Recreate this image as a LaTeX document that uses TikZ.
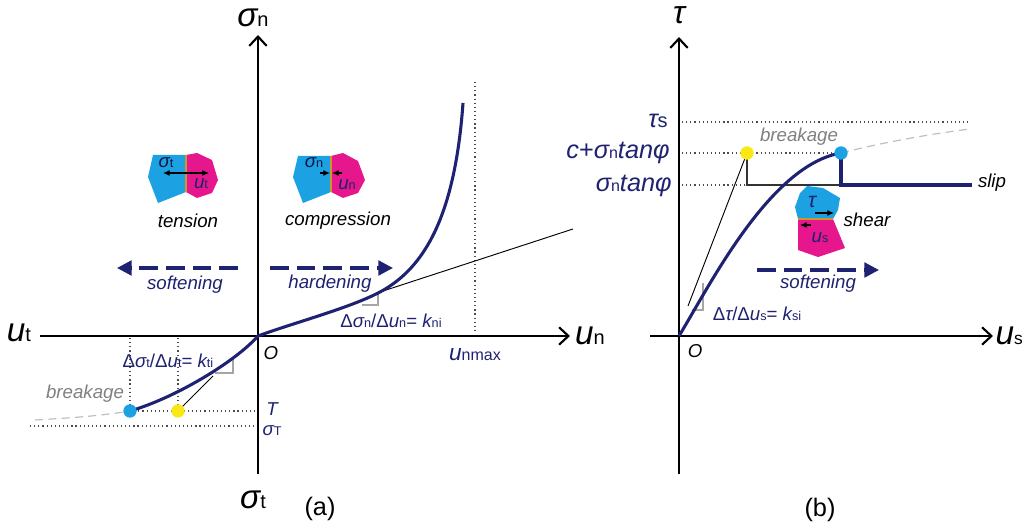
\documentclass[tikz,border=0pt]{standalone}
\usepackage{fontspec}
\setmainfont{Liberation Sans}
\usetikzlibrary{arrows.meta}
\definecolor{navy}{RGB}{30,34,112}
\definecolor{cyanb}{RGB}{28,162,226}
\definecolor{pinkb}{RGB}{230,22,140}
\definecolor{yel}{RGB}{250,232,20}
\definecolor{ifc}{RGB}{205,150,40}
\newcommand\sbs[1]{{\fontsize{9.5}{10}\selectfont #1}}
\newcommand\sbb[1]{{\fontsize{15}{16}\selectfont #1}}
\newcommand\sbm[1]{{\fontsize{12}{13}\selectfont #1}}
\tikzset{
  axisline/.style={line width=2.2pt,-{Straight Barb[length=7pt,width=13pt,line width=1.6pt]}},
  curveline/.style={draw=navy,line width=2.3pt},
  dotline/.style={draw=black!70,line width=0.9pt,dash pattern=on 0.9pt off 2.2pt},
  dasharrow/.style={draw=navy,line width=2.4pt,dash pattern=on 14pt off 6pt,-{Triangle[length=11pt,width=11pt]}},
  thinline/.style={draw=black,line width=0.7pt},
  marker/.style={draw=black!35,line width=0.8pt},
  greydash/.style={draw=black!25,line width=0.9pt,dash pattern=on 6pt off 4pt},
  lbl/.style={inner sep=0pt,font=\fontsize{14}{16}\selectfont},
  nlbl/.style={lbl,text=navy},
  axlbl/.style={inner sep=0pt,font=\fontsize{25}{26}\selectfont},
  biglbl/.style={inner sep=0pt,text=navy,font=\fontsize{19}{20}\selectfont},
  dotnode/.style={circle,inner sep=0pt,minimum size=10pt},
  tip/.style={line width=0.8pt,-{Latex[length=5pt,width=4.5pt]}},
  iface/.style={draw=ifc,line width=1.3pt}
}
\begin{document}
\begin{tikzpicture}[x=0.75pt,y=-0.75pt]
\useasboundingbox (0,0) rectangle (1024,530);
% ---------------- panel (a) ----------------
\coordinate (Oa) at (258,336);
\coordinate (axL) at (40,336);
\coordinate (axR) at (570,336);
\coordinate (axB) at (258,474);
\coordinate (axT) at (258,35);
% dotted guides
\coordinate (bA) at (130,411);
\coordinate (yA) at (178,411);
\draw[dotline] (bA) -- (256,411);
\draw[dotline] (30,426) -- (256,426);
\draw[dotline] (130,338) -- (bA);
\draw[dotline] (178,338) -- (yA);
\draw[dotline] (475,82) -- (475,334);
% axes
\draw[axisline] (axL) -- (axR);
\draw[axisline] (axB) -- (axT);
% grey continuation
\draw[greydash] (35,420) .. controls (70,418) and (100,416) .. (bA);
% markers
\draw[marker] (362,305) -- (378,305) -- (378,294);
\draw[marker] (215,373) -- (233,373) -- (233,359);
% tangents
\draw[thinline] (380,292) -- (573,229);
\draw[thinline] (yA) -- (213,376);
% curve
\draw[curveline] (bA) .. controls (175,398) and (235,362) .. (Oa)
  .. controls (293,323) and (350,308) .. (380,292)
  .. controls (425,268) and (455,215) .. (463,103);
\node[dotnode,fill=cyanb] (dotA1) at (bA) {};
\node[dotnode,fill=yel] (dotA2) at (yA) {};
% icons: tension
\fill[cyanb] (153,155) -- (186,155) -- (186,192) -- (158,203) -- (148,177) -- cycle;
\fill[pinkb] (186,155) -- (197,153) -- (212,160) -- (218,180) -- (212,193) -- (197,198) -- (186,192) -- cycle;
\draw[iface] (186,155) -- (186,192);
\draw[tip] (186,173) -- (163,173);
\draw[tip] (186,173) -- (209,173);
\node[lbl,text=navy!60!black] (sigt) at (166,163) {\itshape σ\upshape\sbs{t}};
\node[lbl,text=navy] (uti) at (201,184) {\itshape u\upshape\sbs{t}};
% icons: compression
\fill[cyanb] (298,156) -- (331,156) -- (331,192) -- (303,203) -- (293,177) -- cycle;
\fill[pinkb] (331,156) -- (343,153) -- (358,161) -- (365,180) -- (358,193) -- (343,198) -- (331,192) -- cycle;
\draw[iface] (331,156) -- (331,192);
\draw[tip] (320,173) -- (330,173);
\draw[tip] (342,173) -- (332,173);
\node[lbl,text=navy!60!black] (sign) at (314,163) {\itshape σ\upshape\sbs{n}};
\node[lbl,text=navy] (uni) at (347,185) {\itshape u\upshape\sbs{n}};
\node[lbl] (tens) at (188,221) {\itshape tension};
\node[lbl] (comp) at (338,221) {\itshape compression};
% dashed arrows
\coordinate (sA1) at (238,268); \coordinate (sA2) at (117,268);
\draw[dasharrow] (sA1) -- (sA2);
\coordinate (hA1) at (270,268); \coordinate (hA2) at (393,268);
\draw[dasharrow] (hA1) -- (hA2);
\node[nlbl] (softA) at (185,285) {\itshape softening};
\node[nlbl] (hardA) at (330,284) {\itshape hardening};
% labels
\node[axlbl] (lsn) at (253,18) {\itshape σ\upshape\sbb{n}};
\node[axlbl] (lut) at (19,333) {\itshape u\upshape\sbb{t}};
\node[axlbl] (lun) at (590,336) {\itshape u\upshape\sbb{n}};
\node[axlbl] (lst) at (253,500) {\itshape σ\upshape\sbb{t}};
\node[lbl,font=\fontsize{14}{16}\selectfont] (OA) at (271,353) {\itshape O};
\node[inner sep=0pt,font=\fontsize{19}{20}\selectfont] (capa) at (320,509) {(a)};
\node[nlbl] (TT) at (272,409) {\itshape T};
\node[nlbl] (sT) at (272,431) {\itshape σ\upshape\sbs{T}};
\node[lbl,text=black!50] (brA) at (85,394) {\itshape breakage};
\node[nlbl] (kti) at (168,361) {Δ\itshape σ\upshape\sbs{t}/Δ\itshape u\upshape\sbs{t}= \itshape k\upshape\sbs{ti}};
\node[nlbl] (kni) at (391,321) {Δ\itshape σ\upshape\sbs{n}/Δ\itshape u\upshape\sbs{n}= \itshape k\upshape\sbs{ni}};
\node[biglbl,font=\fontsize{17}{18}\selectfont] (unmax) at (475,355) {\itshape u\upshape\sbm{nmax}};
% ---------------- panel (b) ----------------
\coordinate (Ob) at (679,336);
\coordinate (bxL) at (650,336);
\coordinate (bxR) at (993,336);
\coordinate (byB) at (679,474);
\coordinate (byT) at (679,37);
\coordinate (yB) at (747,153);
\coordinate (bB) at (841,153);
\draw[dotline] (682,122) -- (970,122);
\draw[dotline] (682,153) -- (bB);
\draw[dotline] (682,185) -- (747,185);
\draw[axisline] (bxL) -- (bxR);
\draw[axisline] (byB) -- (byT);
\draw[greydash] (bB) .. controls (880,143) and (930,134) .. (970,129);
\draw[marker] (692,310) -- (703,310) -- (703,283);
\draw[thinline] (688,306) -- (yB);
\draw[draw=black!80,line width=0.9pt] (yB) -- (747,185) -- (841,185);
\draw[curveline] (Ob) .. controls (710,285) and (770,165) .. (bB);
\draw[curveline] (bB) -- (841,185) -- (972,185);
\node[dotnode,fill=yel] (dotB2) at (yB) {};
\node[dotnode,fill=cyanb] (dotB1) at (bB) {};
% shear icon
\fill[cyanb] (807,186) -- (823,188) -- (840,198) -- (838,210) -- (833,219) -- (798,219) -- (795,207) -- (800,193) -- cycle;
\fill[pinkb] (798,219) -- (833,219) -- (845,248) -- (818,257) -- (798,250) -- cycle;
\draw[iface] (798,219) -- (833,219);
\draw[tip] (815,213) -- (834,213);
\draw[tip] (811,225) -- (800,225);
\node[lbl,text=navy,font=\fontsize{16}{17}\selectfont] (tauI) at (812,202) {\itshape τ};
\node[lbl,text=navy] (usI) at (820,238) {\itshape u\upshape\sbs{s}};
\node[lbl] (shear) at (867,220) {\itshape shear};
\node[lbl] (slip) at (992,183) {\itshape slip};
\coordinate (sB1) at (757,270); \coordinate (sB2) at (879,270);
\draw[dasharrow] (sB1) -- (sB2);
\node[nlbl] (softB) at (818,284) {\itshape softening};
\node[lbl,text=black!50] (brB) at (799,137) {\itshape breakage};
\node[nlbl] (ksi) at (757,314) {Δ\itshape τ\upshape/Δ\itshape u\upshape\sbs{s}= \itshape k\upshape\sbs{si}};
\node[axlbl,font=\fontsize{24}{26}\selectfont] (ltau) at (679,15) {\itshape τ};
\node[axlbl,anchor=east] (lus) at (1023,336) {\itshape u\upshape{\fontsize{13}{14}\selectfont s}};
\node[lbl,font=\fontsize{14}{16}\selectfont] (OB) at (695,351) {\itshape O};
\node[inner sep=0pt,font=\fontsize{19}{20}\selectfont] (capb) at (820,510) {(b)};
\node[biglbl,anchor=east] (taus) at (668,121) {\itshape τ\upshape\sbb{s}};
\node[biglbl,anchor=east] (cst) at (670,153) {\itshape c\upshape+\itshape σ\upshape\sbm{n}\itshape tanφ};
\node[biglbl,anchor=east] (stf) at (672,186) {\itshape σ\upshape\sbm{n}\itshape tanφ};
\end{tikzpicture}
\end{document}
